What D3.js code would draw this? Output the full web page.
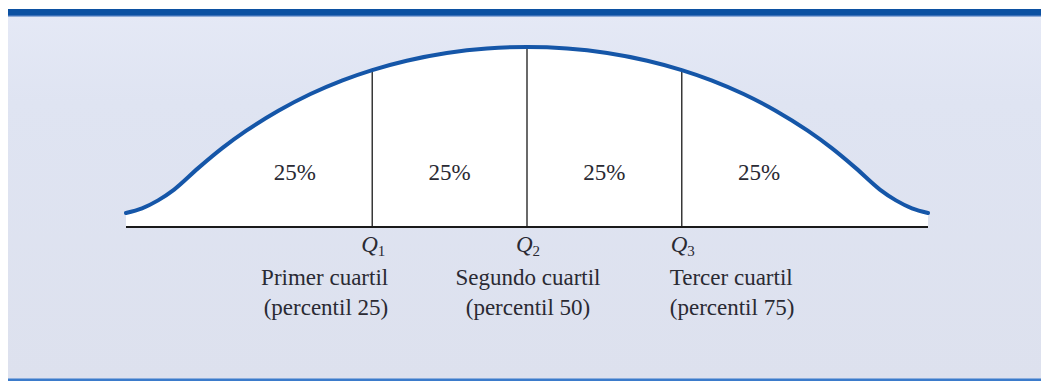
<!DOCTYPE html>
<html>
<head>
<meta charset="utf-8">
<script src="https://cdn.jsdelivr.net/npm/d3@7"></script>
<style>
  html, body { margin: 0; padding: 0; background: #ffffff; }
  svg { display: block; }
</style>
</head>
<body>
<svg id="chart" width="1041" height="383"></svg>
<script>
// Density curve samples (x in percent of range, height in percent of peak)
const curveX = [0, 2, 4, 6, 9, 12, 15, 19, 23, 27, 30.7, 35, 40, 45, 50,
                55, 60, 65, 69.3, 73, 77, 81, 85, 88, 91, 94, 96, 98, 100];
const curveY = [7.8, 10.4, 14.8, 20.8, 32.7, 43.8, 53.5, 64.6, 73.9, 81.5, 87.2, 92.4, 96.7, 99.2, 100,
                99.2, 96.7, 92.4, 87.2, 81.5, 73.9, 64.6, 53.5, 43.8, 32.7, 20.8, 14.8, 10.4, 7.8];

// Quartile positions and their labels
const quartiles = [30.7, 50, 69.3];
const quartileIndex = ["1", "2", "3"];
const quartileNames = ["Primer cuartil", "Segundo cuartil", "Tercer cuartil"];
const quartilePercentiles = ["(percentil 25)", "(percentil 50)", "(percentil 75)"];
const shareLabels = ["25%", "25%", "25%", "25%"];

const svg = d3.select("#chart");
const W = 1041, H = 383;

// Panel background
const defs = svg.append("defs");
const grad = defs.append("linearGradient").attr("id", "panelBg")
  .attr("x1", 0).attr("y1", 0).attr("x2", 0).attr("y2", 1);
grad.append("stop").attr("offset", "0%").attr("stop-color", "#e5e9f6");
grad.append("stop").attr("offset", "25%").attr("stop-color", "#dfe4f2");
grad.append("stop").attr("offset", "100%").attr("stop-color", "#dde1ee");

svg.append("rect").attr("x", 8).attr("y", 9).attr("width", W - 8).attr("height", 371)
  .attr("fill", "url(#panelBg)");
svg.append("rect").attr("x", 8).attr("y", 9).attr("width", W - 8).attr("height", 7)
  .attr("fill", "#0c51a2");
svg.append("rect").attr("x", 8).attr("y", 15).attr("width", W - 8).attr("height", 1.5)
  .attr("fill", "#3a6fb8");
svg.append("rect").attr("x", 8).attr("y", 378.5).attr("width", W - 8).attr("height", 2.5)
  .attr("fill", "#3b7bcb");

const x = d3.scaleLinear().domain([0, 100]).range([126, 928]);
const y = d3.scaleLinear().domain([0, 100]).range([227, 47]);

const pts = curveX.map((v, i) => [v, curveY[i]]);

// White area under the curve
const area = d3.area()
  .x(d => x(d[0])).y0(y(0)).y1(d => y(d[1]))
  .curve(d3.curveMonotoneX);
svg.append("path").datum(pts).attr("d", area).attr("fill", "#ffffff");

// Quartile dividers
quartiles.forEach(q => {
  const h = curveY[curveX.indexOf(q)];
  svg.append("line")
    .attr("x1", x(q)).attr("x2", x(q))
    .attr("y1", y(0)).attr("y2", y(h))
    .attr("stroke", "#1a1a1a").attr("stroke-width", 1.3);
});

// Baseline
svg.append("line")
  .attr("x1", x(0)).attr("x2", x(100))
  .attr("y1", y(0)).attr("y2", y(0))
  .attr("stroke", "#1a1a1a").attr("stroke-width", 1.8);

// Curve outline
const line = d3.line()
  .x(d => x(d[0])).y(d => y(d[1]))
  .curve(d3.curveMonotoneX);
svg.append("path").datum(pts).attr("d", line)
  .attr("fill", "none").attr("stroke", "#1556a8")
  .attr("stroke-width", 4).attr("stroke-linecap", "round");

const serif = "'Liberation Serif', 'DejaVu Serif', serif";
const textColor = "#2a2a33";

// Share labels: half a quartile spacing from each divider
const halfGap = (x(quartiles[1]) - x(quartiles[0])) / 2;
const sharePos = [
  x(quartiles[0]) - halfGap,
  (x(quartiles[0]) + x(quartiles[1])) / 2,
  (x(quartiles[1]) + x(quartiles[2])) / 2,
  x(quartiles[2]) + halfGap
];
svg.selectAll("text.share").data(shareLabels).enter().append("text")
  .attr("class", "share")
  .attr("x", (d, i) => sharePos[i]).attr("y", 180)
  .attr("text-anchor", "middle")
  .attr("font-family", serif).attr("font-size", 23)
  .attr("fill", textColor)
  .text(d => d);

// Quartile symbols Q1, Q2, Q3
quartiles.forEach((q, i) => {
  const t = svg.append("text")
    .attr("x", x(q) + 1).attr("y", 252)
    .attr("text-anchor", "middle")
    .attr("font-family", serif).attr("font-size", 23)
    .attr("fill", textColor);
  t.append("tspan").attr("font-style", "italic").text("Q");
  t.append("tspan").attr("font-size", 15).attr("dy", 4).text(quartileIndex[i]);
});

// Quartile descriptions
const anchors = ["end", "middle", "start"];
const offsets = [16, 1, -12];
quartiles.forEach((q, i) => {
  [quartileNames[i], quartilePercentiles[i]].forEach((s, j) => {
    svg.append("text")
      .attr("x", x(q) + offsets[i]).attr("y", 285 + j * 30)
      .attr("text-anchor", anchors[i])
      .attr("font-family", serif).attr("font-size", 23)
      .attr("fill", textColor)
      .text(s);
  });
});
</script>
</body>
</html>
